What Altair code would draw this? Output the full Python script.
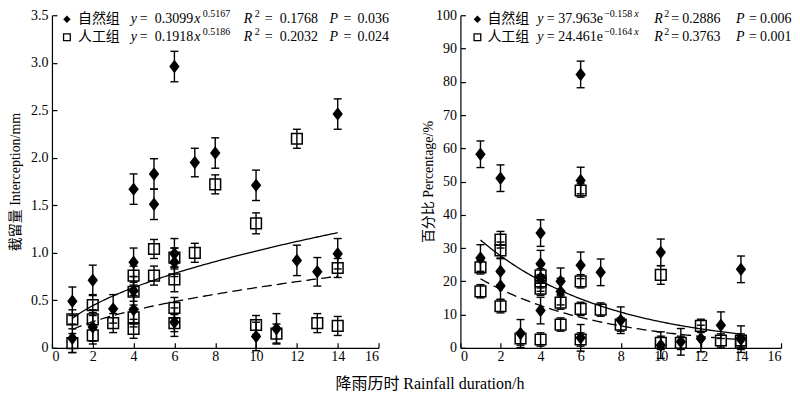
import altair as alt
import pandas as pd

# ---------------- data ----------------
# Left panel: interception (mm)
nat_x_l = [1, 1, 2, 2, 3, 4, 4, 4, 4, 5, 5, 6, 6, 6, 6, 7, 8, 10, 10, 11, 12, 13, 14, 14]
nat_y_l = [0.49, 0.10, 0.71, 0.22, 0.41, 1.67, 0.90, 0.60, 0.40, 1.83, 1.51, 2.96, 0.99, 0.90,
           0.27, 1.95, 2.05, 1.71, 0.12, 0.20, 0.92, 0.80, 2.46, 0.99]
nat_e_l = [0.15, 0.15, 0.16, 0.15, 0.15, 0.16, 0.15, 0.15, 0.15, 0.16, 0.16, 0.16, 0.16, 0.15,
           0.15, 0.15, 0.16, 0.16, 0.15, 0.16, 0.16, 0.15, 0.16, 0.16]
art_x_l = [1, 1, 2, 2, 2, 3, 4, 4, 4, 4, 5, 5, 6, 6, 6, 6, 7, 8, 10, 10, 11, 12, 13, 14, 14]
art_y_l = [0.30, 0.05, 0.45, 0.30, 0.13, 0.26, 0.76, 0.59, 0.32, 0.20, 1.04, 0.76, 0.95, 0.72,
           0.42, 0.26, 1.00, 1.72, 1.31, 0.24, 0.15, 2.20, 0.26, 0.84, 0.23]
art_e_l = [0.10, 0.10, 0.11, 0.10, 0.09, 0.10, 0.10, 0.10, 0.10, 0.10, 0.10, 0.10, 0.10, 0.13,
           0.11, 0.09, 0.10, 0.10, 0.11, 0.10, 0.10, 0.10, 0.10, 0.10, 0.10]

# Right panel: percentage (%)
nat_x_r = [1, 1, 2, 2, 2, 3, 4, 4, 4, 4, 5, 5, 6, 6, 6, 6, 7, 8, 10, 10, 11, 12, 13, 14, 14]
nat_y_r = [58.2, 27.0, 51.0, 23.0, 18.6, 4.3, 34.5, 25.3, 21.0, 11.2, 20.0, 16.9, 82.2, 50.3,
           24.8, 3.0, 22.7, 8.3, 28.7, 0.8, 1.8, 2.8, 6.8, 23.6, 2.6]
nat_e_r = [4.0, 4.0, 4.0, 4.0, 4.0, 4.2, 4.0, 4.0, 4.0, 4.0, 4.0, 4.0, 4.0, 4.0,
           4.0, 4.0, 4.0, 4.0, 4.0, 4.0, 4.0, 4.0, 4.0, 4.0, 4.0]
art_x_r = [1, 1, 2, 2, 2, 3, 4, 4, 4, 4, 5, 5, 6, 6, 6, 6, 7, 8, 10, 10, 11, 12, 13, 14, 14]
art_y_r = [24.2, 17.0, 32.5, 29.3, 12.5, 2.8, 21.8, 20.0, 17.8, 2.5, 13.6, 7.0, 47.3, 20.0,
           11.7, 2.5, 11.5, 7.0, 21.9, 1.5, 1.5, 6.6, 2.2, 2.2, 1.5]
art_e_r = [2.0, 2.0, 2.5, 2.5, 2.0, 2.0, 2.0, 2.0, 2.0, 2.0, 2.0, 2.0, 2.0, 2.0,
           2.0, 2.0, 2.0, 2.0, 2.8, 2.0, 2.0, 2.0, 2.0, 2.0, 2.0]

# fitted curves printed on the chart
pow_nat = [0.3099, 0.5167]    # y = a x^b
pow_art = [0.1918, 0.5186]
exp_nat = [37.963, -0.158]    # y = a e^(b x)
exp_art = [24.461, -0.164]
stats_l = [["0.1768", "0.036"], ["0.2032", "0.024"]]
stats_r = [["0.2886", "0.006"], ["0.3763", "0.001"]]
groups = ["自然组", "人工组"]

x_ticks = [0, 2, 4, 6, 8, 10, 12, 14, 16]
y_ticks_l = [0, 0.5, 1.0, 1.5, 2.0, 2.5, 3.0, 3.5]
y_ticks_r = [0, 10, 20, 30, 40, 50, 60, 70, 80, 90, 100]

# ---------------- styling ----------------
SERIF = "Liberation Serif"
MIXED = "Liberation Serif, Noto Sans CJK SC"
CJK = "Noto Sans CJK SC"
DIAMOND = "M0,-1.1L0.85,0L0,1.1L-0.85,0Z"
FS = 14
SUP = 5  # superscript raise


def txt(s, x, y, size=FS, italic=False, font=SERIF, align="left"):
    return alt.Chart(pd.DataFrame({"t": [s]})).mark_text(
        align=align, baseline="middle", font=font, fontSize=size,
        fontStyle="italic" if italic else "normal", color="black"
    ).encode(x=alt.value(x), y=alt.value(y), text="t:N")


def legend_marker(filled, x, y):
    if filled:
        m = alt.Chart(pd.DataFrame({"k": [0]})).mark_point(
            shape="diamond", filled=True, color="black", size=55, opacity=1)
    else:
        m = alt.Chart(pd.DataFrame({"k": [0]})).mark_point(
            shape="square", filled=False, color="black", size=45, strokeWidth=1.3, opacity=1)
    return m.encode(x=alt.value(x), y=alt.value(y))


def panel(nx, ny, ne, ax_, ay, ae, ymax, yvals, ytitle, curve_expr_nat, curve_expr_art,
          legend_layers, W, H, title_pad, ylabel_expr=None):
    nat = pd.DataFrame({"x": nx, "y": ny,
                        "lo": [a - b for a, b in zip(ny, ne)],
                        "hi": [a + b for a, b in zip(ny, ne)]})
    art = pd.DataFrame({"x": ax_, "y": ay,
                        "lo": [a - b for a, b in zip(ay, ae)],
                        "hi": [a + b for a, b in zip(ay, ae)]})
    xs = alt.Scale(domain=[0, 16], nice=False, zero=False)
    ys = alt.Scale(domain=[0, ymax], nice=False, zero=False)
    xax = alt.Axis(values=x_ticks, title=None, grid=False, format="d",
                   tickSize=alt.ExprRef(expr="-5"), labelPadding=7)
    yargs = dict(values=yvals, title=ytitle, grid=False,
                 tickSize=alt.ExprRef(expr="-5"), labelPadding=9, titlePadding=title_pad)
    if ylabel_expr:
        yargs["labelExpr"] = ylabel_expr
    yax = alt.Axis(**yargs)

    X = alt.X("x:Q", scale=xs, axis=xax)

    layers = []
    for df in (nat, art):
        layers.append(alt.Chart(df).mark_rule(color="black", strokeWidth=1.4).encode(
            x=X, y=alt.Y("lo:Q", scale=ys, axis=yax), y2="hi:Q"))
        for f in ("lo", "hi"):
            layers.append(alt.Chart(df).mark_tick(
                orient="horizontal", size=8, thickness=1.4, color="black", opacity=1).encode(
                x=X, y=alt.Y(f + ":Q", scale=ys, axis=yax)))
    layers.append(alt.Chart(art).mark_point(
        shape="square", filled=False, color="black", size=115, strokeWidth=1.5, opacity=1
    ).encode(x=X, y=alt.Y("y:Q", scale=ys, axis=yax)))
    layers.append(alt.Chart(nat).mark_point(
        shape=DIAMOND, filled=True, color="black", size=150, opacity=1
    ).encode(x=X, y=alt.Y("y:Q", scale=ys, axis=yax)))

    seq = alt.sequence(1, 14.001, 0.1, as_="x")
    layers.append(alt.Chart(seq).transform_calculate(y=curve_expr_nat).mark_line(
        color="black", strokeWidth=1.3).encode(x=X, y=alt.Y("y:Q", scale=ys, axis=yax)))
    layers.append(alt.Chart(seq).transform_calculate(y=curve_expr_art).mark_line(
        color="black", strokeWidth=1.3, strokeDash=[10, 5]).encode(
        x=X, y=alt.Y("y:Q", scale=ys, axis=yax)))

    layers.extend(legend_layers)
    return alt.layer(*layers).properties(width=W, height=H)


ROWS = [4, 22]
CJK_FS = 14

left_legend = []
for i, ry in enumerate(ROWS):
    a, b = (pow_nat, pow_art)[i]
    r2, p = stats_l[i]
    left_legend += [
        legend_marker(i == 0, 15, ry),
        txt(groups[i], 26, ry, font=CJK, size=CJK_FS),
        txt("y", 79, ry, italic=True),
        txt("=", 88, ry),
        txt(f"{a}", 103, ry),
        txt("x", 142.5, ry, italic=True),
        txt(f"{b}", 151, ry - SUP, size=10),
        txt("R", 192, ry, italic=True),
        txt("2", 203, ry - SUP, size=10),
        txt("=", 213, ry),
        txt(r2, 228, ry),
        txt("P", 278, ry, italic=True),
        txt("=", 292, ry),
        txt(p, 306, ry),
    ]

right_legend = []
for i, ry in enumerate(ROWS):
    a, b = (exp_nat, exp_art)[i]
    r2, p = stats_r[i]
    right_legend += [
        legend_marker(i == 0, 17, ry),
        txt(groups[i], 27, ry, font=CJK, size=CJK_FS),
        txt("y", 77, ry, italic=True),
        txt("=", 86.5, ry),
        txt(f"{a}e", 98, ry),
        txt(f"\u2212{abs(b)}", 144, ry - SUP, size=10),
        txt("x", 174, ry - SUP, size=10, italic=True),
        txt("R", 194, ry, italic=True),
        txt("2", 204, ry - SUP, size=10),
        txt("=", 211, ry),
        txt(r2, 222, ry),
        txt("P", 276, ry, italic=True),
        txt("=", 289, ry),
        txt(p, 300, ry),
    ]

H = 333
left = panel(nat_x_l, nat_y_l, nat_e_l, art_x_l, art_y_l, art_e_l, 3.5, y_ticks_l,
             "截留量  Interception/mm",
             f"{pow_nat[0]} * pow(datum.x, {pow_nat[1]})",
             f"{pow_art[0]} * pow(datum.x, {pow_art[1]})",
             left_legend, 327, H, 8,
             ylabel_expr="datum.value == 0 ? '0' : format(datum.value, '.1f')")
right = panel(nat_x_r, nat_y_r, nat_e_r, art_x_r, art_y_r, art_e_r, 100, y_ticks_r,
              "百分比  Percentage/%",
              f"{exp_nat[0]} * exp({exp_nat[1]} * datum.x)",
              f"{exp_art[0]} * exp({exp_art[1]} * datum.x)",
              right_legend, 321, H, 0)

chart = alt.hconcat(left, right, spacing=32).properties(
    title=alt.TitleParams(text="降雨历时  Rainfall duration/h", orient="bottom",
                          anchor="middle", font=MIXED, fontSize=16, fontWeight="normal",
                          color="black", offset=12, dx=30),
    padding={"left": 0, "top": 0, "right": 0, "bottom": 0},
    background="white",
).configure_view(stroke=None).configure_axis(
    grid=False, domainColor="black", domainWidth=1.2, tickColor="black", tickWidth=1.2,
    labelColor="black", titleColor="black", labelFont=SERIF, titleFont=MIXED,
    labelFontSize=14, titleFontSize=14, titleFontWeight="normal"
)

chart.save("out.html", embed_options={"renderer": "svg", "actions": False})
